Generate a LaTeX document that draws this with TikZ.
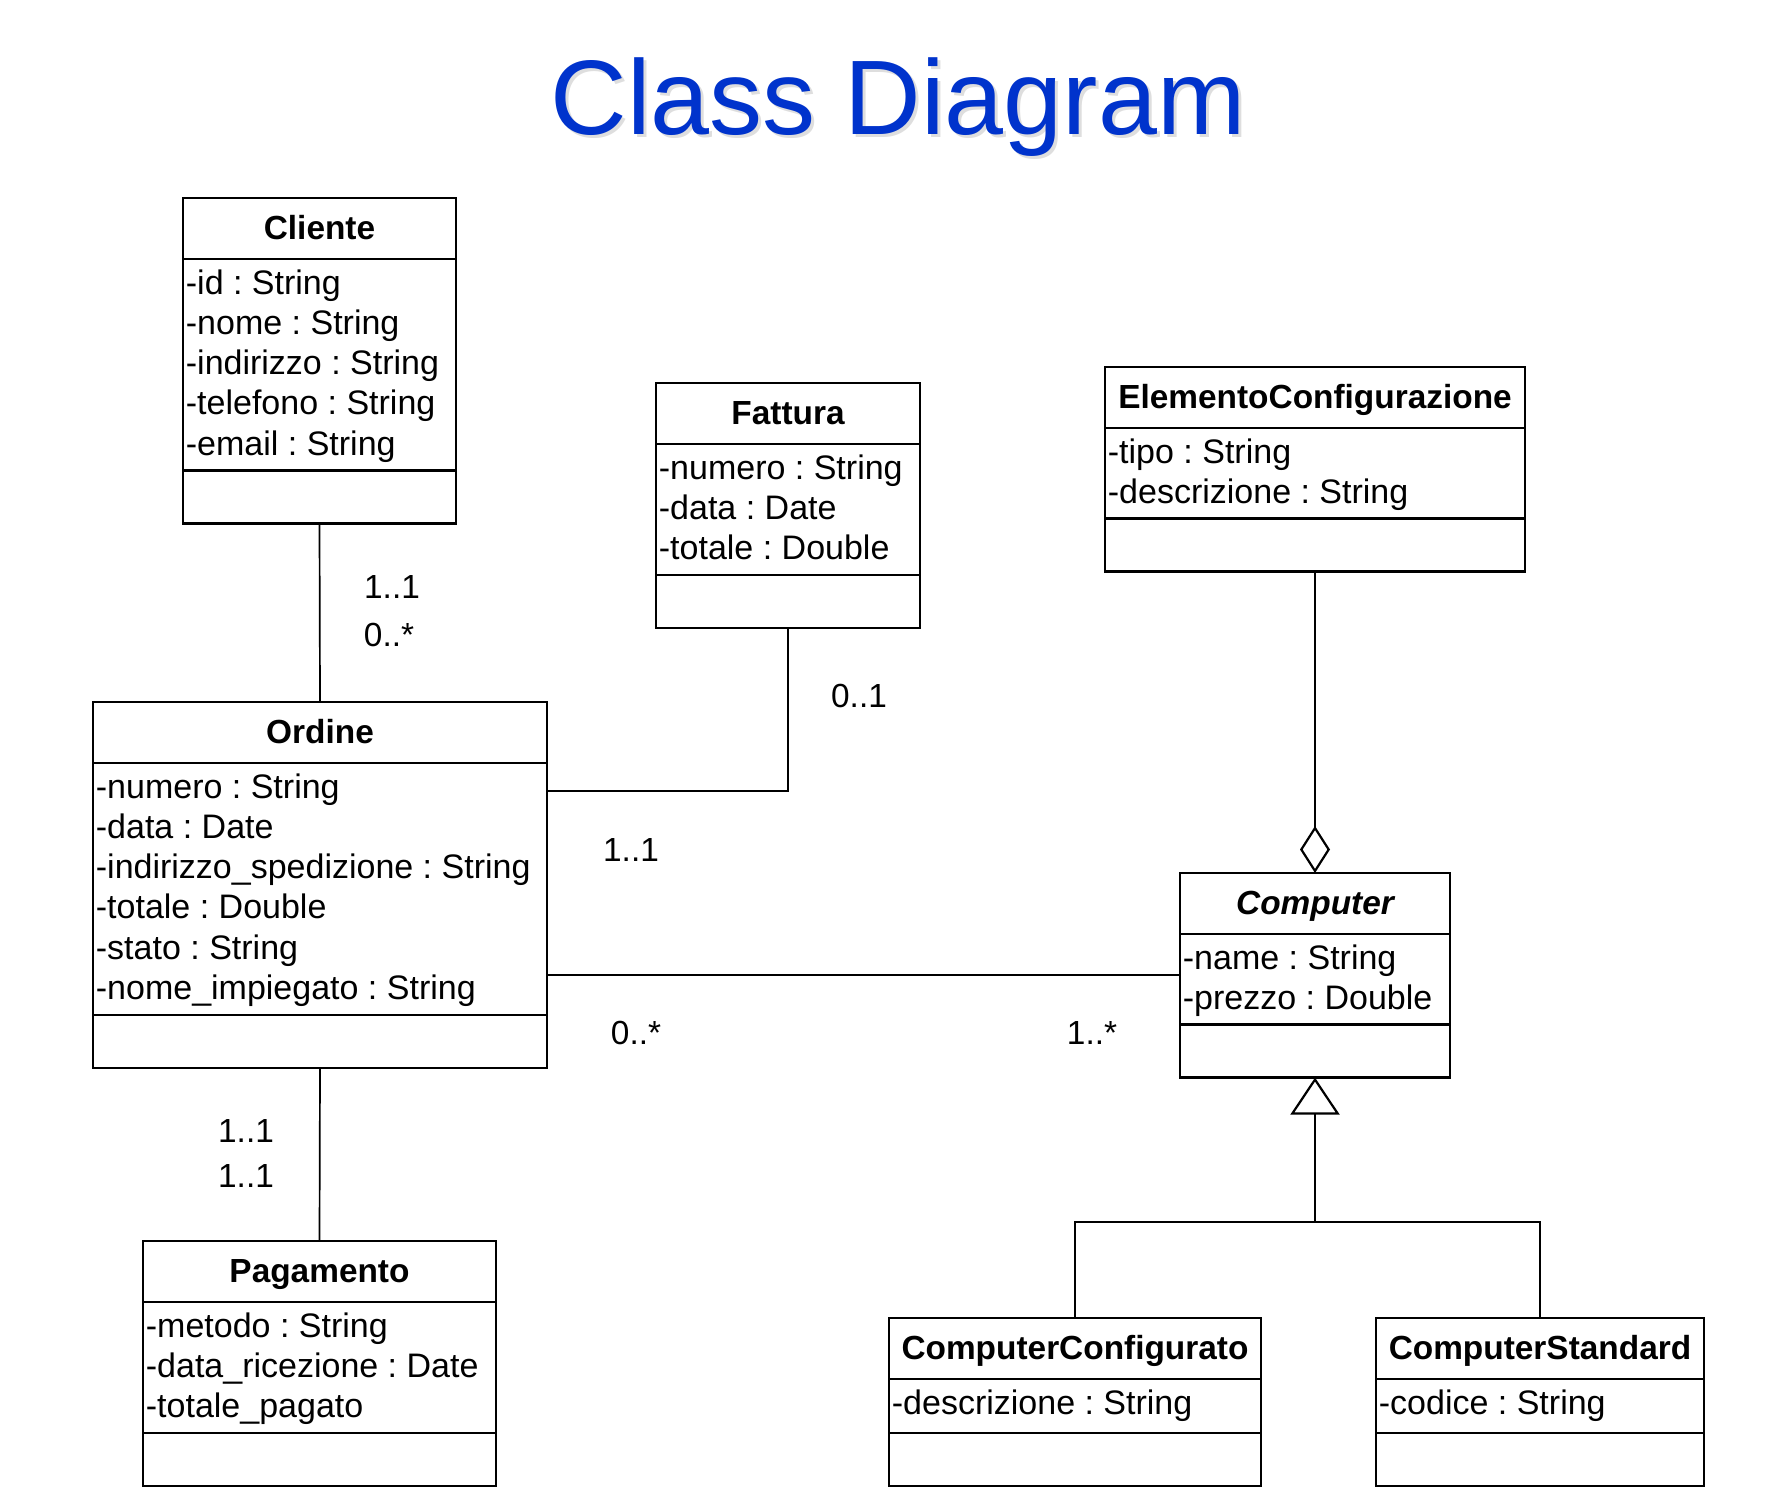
\documentclass[tikz,border=0pt]{standalone}
\usepackage{fontspec}
\setmainfont{Liberation Sans}
\usetikzlibrary{arrows.meta,calc}
\frenchspacing
\definecolor{titleblue}{RGB}{0,51,204}
\tikzset{
  clsbox/.style={draw=black, line width=1.3pt, fill=white, inner sep=0pt, outer sep=0pt, rectangle},
  clsline/.style={draw=black, line width=1.3pt},
  clstitle/.style={inner sep=0pt, font=\fontsize{16.7pt}{20pt}\selectfont\bfseries},
  attr/.style={inner sep=0pt, font=\fontsize{17pt}{20pt}\selectfont},
  mult/.style={inner sep=0pt, font=\fontsize{16.7pt}{20pt}\selectfont},
  conn/.style={draw=black, line width=0.85pt},
  titletext/.style={inner sep=0pt, font=\fontsize{53pt}{60pt}\selectfont}
}
% #1 name, #2 left x, #3 top y, #4 width, #5 title, #6 height of attribute section, #7 attributes
\newcommand{\umlclass}[7]{%
  \pgfmathsetmacro{\ucH}{(61+#6+53)*0.5}%
  \pgfmathsetmacro{\ucW}{#4*0.5}%
  \pgfmathsetmacro{\ucHa}{#3+61}%
  \pgfmathsetmacro{\ucHb}{#3+61+#6}%
  \pgfmathsetmacro{\ucR}{#2+#4}%
  \node[clsbox, minimum width=\ucW pt, minimum height=\ucH pt, anchor=north west] (#1) at (#2,#3) {};
  \draw[clsline] (#2,\ucHa) -- (\ucR,\ucHa);
  \draw[clsline] (#2,\ucHb) -- (\ucR,\ucHb);
  \node[clstitle, anchor=base] (#1-t) at ({#2+#4/2},{#3+41}) {#5};
  \foreach \a [count=\i] in {#7} {
    \node[attr, anchor=base west] (#1-a\i) at ({#2+2.5},{\ucHa+35+(\i-1)*40.3}) {\a};
  }
}
\begin{document}
\begin{tikzpicture}[x=0.5pt,y=-0.5pt]
\useasboundingbox (0,0) rectangle (1779,1510);
\fill[white] (0,0) rectangle (1779,1510);

% title
\node[titletext, text=black!13, anchor=base] (titleshadow) at (901,137) {Class Diagram};
\node[titletext, text=titleblue, anchor=base] (title) at (898,134) {Class Diagram};

% classes
\umlclass{cliente}{183}{198}{273}{Cliente}{211.5}{-id : String,-nome : String,-indirizzo : String,-telefono : String,-email : String}
\umlclass{fattura}{656}{383}{264}{Fattura}{130.9}{-numero : String,-data : Date,-totale : Double}
\umlclass{elem}{1105}{367}{420}{ElementoConfigurazione}{90.6}{-tipo : String,-descrizione : String}
\umlclass{ordine}{93}{702}{454}{Ordine}{251.8}{-numero : String,-data : Date,-indirizzo\_spedizione : String,-totale : Double,-stato : String,-nome\_impiegato : String}
\umlclass{computer}{1180}{873}{270}{\itshape Computer}{90.6}{-name : String,-prezzo : Double}
\umlclass{pagamento}{143}{1241}{353}{Pagamento}{130.9}{-metodo : String,-data\_ricezione : Date,-totale\_pagato}
\umlclass{cconf}{889}{1318}{372}{ComputerConfigurato}{54}{-descrizione : String}
\umlclass{cstd}{1376}{1318}{328}{ComputerStandard}{54}{-codice : String}

% connectors
\draw[conn] (cliente.south) -- (ordine.north);
\draw[conn] (ordine.south) -- (pagamento.north);
\coordinate (ofj) at (ordine.north east |- 0,791);
\draw[conn] (fattura.south) |- (ofj);
\draw[conn] (ordine.east |- computer.west) -- (computer.west);
\draw[conn, -{Diamond[open, length=23.5pt, width=15pt, line width=1.1pt]}] (elem.south) -- (computer.north);
\coordinate (gj) at (computer.south |- 0,1222);
\draw[conn, -{Triangle[open, length=18.5pt, width=24.5pt, line width=1.1pt]}] (gj) -- (computer.south);
\draw[conn] (cconf.north) |- (gj) -| (cstd.north);

% multiplicities
\node[mult] (m1) at (392,587) {1..1};
\node[mult] (m2) at (389,635) {0..*};
\node[mult] (m3) at (859,696) {0..1};
\node[mult] (m4) at (631,850) {1..1};
\node[mult] (m5) at (636,1033) {0..*};
\node[mult] (m6) at (1092,1033) {1..*};
\node[mult] (m7) at (246,1131) {1..1};
\node[mult] (m8) at (246,1176) {1..1};
\end{tikzpicture}
\end{document}
